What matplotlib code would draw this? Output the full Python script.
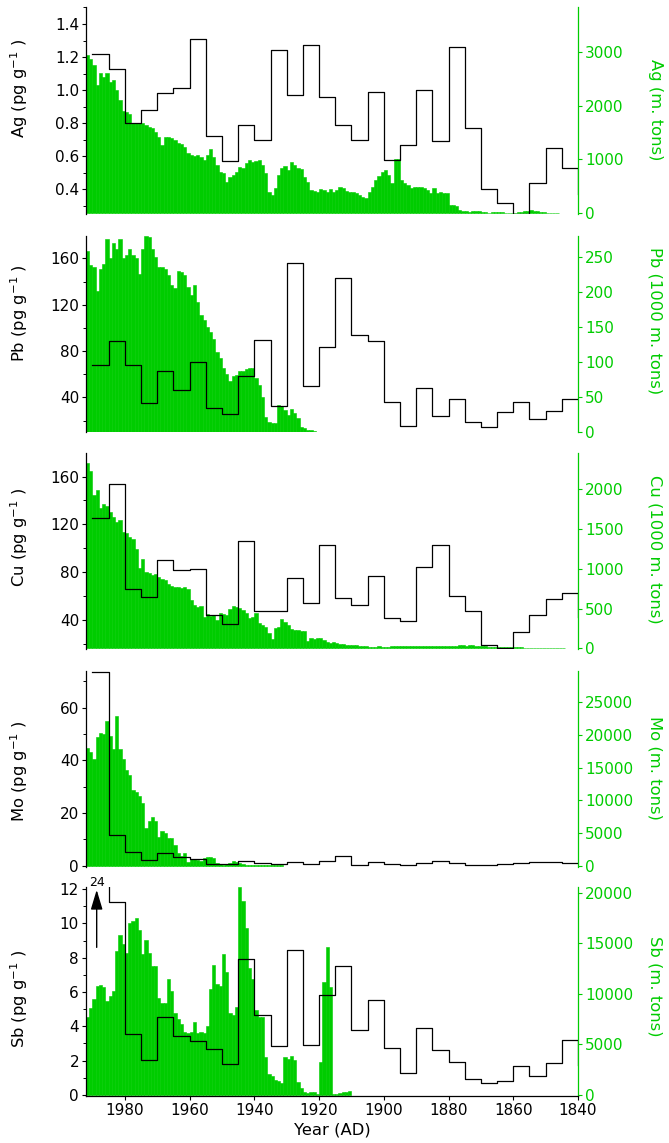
import matplotlib

matplotlib.use("Agg")
import matplotlib.pyplot as plt
import numpy as np
from matplotlib.ticker import FixedLocator, MultipleLocator

GREEN = "#00cc00"

# 5-year ice-core bins (1990 -> 1840), concentrations in pg/g
bin_edges = np.arange(1990, 1835, -5)

ag_conc = [1.22, 1.13, 0.80, 0.88, 0.98, 1.01, 1.31, 0.72, 0.57, 0.79,
           0.70, 1.24, 0.97, 1.27, 0.96, 0.79, 0.70, 0.99, 0.58, 0.67,
           1.00, 0.69, 1.26, 0.77, 0.40, 0.315, 0.253, 0.44, 0.65, 0.53]
ag_conc_end = 0.37
pb_conc = [67.6, 88.3, 67.6, 35.4, 62.4, 46.3, 70.5, 30.8, 25.6, 58.1,
           89.8, 32.5, 156.0, 49.5, 83.2, 142.7, 93.8, 88.3, 35.7, 15.0,
           47.8, 24.2, 38.6, 18.5, 14.5, 27.5, 36.4, 21.4, 28.3, 38.3]
pb_conc_end = 38.3
cu_conc = [125.1, 153.9, 65.7, 59.0, 90.2, 81.6, 82.7, 44.2, 36.4, 106.1,
           47.5, 47.5, 74.9, 53.9, 103.1, 58.7, 52.8, 77.1, 41.4, 39.4,
           84.4, 102.5, 60.1, 47.8, 19.0, 16.5, 29.9, 44.4, 57.3, 62.3]
cu_conc_end = 42.8
mo_conc = [73.6, 11.8, 5.2, 2.0, 4.9, 3.4, 2.6, 0.6, 0.6, 1.9,
           0.9, 0.5, 1.3, 0.6, 1.6, 3.6, 0.4, 1.3, 0.5, 0.1,
           1.1, 1.8, 1.1, 0.4, 0.3, 0.8, 1.0, 1.5, 1.4, 1.1]
mo_conc_end = 1.1
sb_conc = [24.0, 11.23, 3.54, 2.03, 4.55, 3.43, 3.14, 2.65, 1.80, 7.93,
           4.64, 2.86, 8.42, 2.90, 5.84, 7.49, 3.81, 5.55, 2.75, 1.26,
           3.93, 2.61, 1.92, 0.93, 0.72, 0.83, 1.70, 1.12, 1.88, 3.23]
sb_conc_end = 1.74

# annual world production, listed from 1991 backwards
ag_prod = [2932, 2870, 2747, 2377, 2605, 2531, 2605, 2438, 2469, 2296,
           2099, 1895, 1883, 1840, 1679, 1679, 1667, 1679, 1636, 1605,
           1574, 1512, 1420, 1265, 1420, 1420, 1389, 1358, 1296, 1284,
           1235, 1111, 1080, 1062, 1080, 1049, 988, 1080, 1185, 1049,
           895, 772, 741, 586, 679, 710, 772, 864, 833, 926,
           988, 957, 975, 988, 895, 741, 401, 340, 463, 710,
           833, 877, 802, 957, 895, 833, 815, 679, 586, 432,
           420, 401, 444, 432, 401, 444, 401, 432, 481, 463,
           420, 401, 401, 370, 340, 309, 278, 401, 494, 617,
           691, 772, 802, 710, 568, 1000, 1000, 617, 568, 525,
           463, 481, 494, 481, 463, 432, 370, 475, 383, 401,
           370, 383, 154, 154, 136, 62, 49, 43, 31, 37,
           49, 43, 31, 25, 12, 18, 25, 18, 18, 12,
           3, 6, 12, 18, 31, 43, 49, 62, 49, 43,
           25, 18, 12, 6, 6, 6]
pb_prod = [258, 238, 236, 201, 233, 239, 275, 248, 269, 261,
           276, 248, 253, 261, 252, 248, 225, 261, 280, 278,
           261, 250, 236, 236, 233, 224, 209, 206, 229, 228,
           224, 207, 195, 210, 185, 167, 160, 150, 143, 133,
           114, 105, 91, 82, 72, 79, 81, 86, 87, 90,
           91, 91, 76, 67, 50, 21, 14, 12, 13, 38,
           36, 31, 24, 33, 26, 20, 6, 5, 3, 2, 1]
cu_prod = [2336, 2235, 1929, 1992, 1761, 1816, 1791, 1720, 1657, 1594,
           1615, 1468, 1455, 1405, 1371, 1246, 1007, 1124, 965, 944,
           923, 935, 893, 868, 860, 809, 784, 776, 768, 755,
           776, 742, 608, 545, 524, 533, 398, 428, 407, 419,
           356, 449, 432, 419, 491, 533, 524, 503, 482, 440,
           377, 398, 449, 315, 294, 273, 189, 117, 252, 264,
           365, 336, 294, 239, 231, 231, 222, 218, 96, 126,
           122, 134, 130, 105, 84, 71,
           84, 63, 55, 50, 46, 42, 40, 38, 34, 29,
           25, 21, 21, 21, 25, 21, 21, 21, 25, 25,
           25, 29, 29, 25, 29, 34, 29, 29, 34, 29,
           29, 25, 29, 34, 29, 25, 29, 34, 29, 38,
           38, 34, 38, 42, 34, 29, 25, 25, 21, 21,
           17, 21, 17, 17, 21, 17, 13, 17, 13, 8,
           5, 5, 5, 5, 5, 5, 5, 5, 5, 5, 5, 5]
mo_prod = [17955, 17442, 16262, 19699, 20366, 20110, 22162, 19853, 17801, 22931,
           17801, 16262, 14723, 13851, 11645, 11286, 10619, 9593, 5746, 6874,
           7387, 6772, 4412, 5335, 5079, 4309, 4207, 3181, 1898, 1488,
           1898, 616, 1026, 975, 872, 718, 1129, 1283, 1385, 1231,
           359, 205, 103, 257, 462, 718, 616, 359, 205, 103,
           60, 60, 60, 60, 60, 60, 60, 60, 60, 60, 60]
sb_prod = [7736, 8595, 9455, 10830, 10916, 10658, 9283, 9798, 10314, 14268,
           15815, 14955, 14096, 17018, 17190, 17534, 16331, 13924, 15299, 14096,
           12721, 12721, 9626, 9111, 9111, 11517, 10314, 8079, 7478, 7048,
           6188, 6102, 6188, 7220, 6102, 6274, 6102, 6790, 10486, 12893,
           11002, 10830, 13924, 12205, 8079, 7907, 8681, 20628, 19253, 16502,
           12549, 11517, 8423, 7736, 7736, 3782, 2063, 1891, 1461, 1375,
           1203, 3782, 3610, 3868, 3438, 1289, 688, 258, 172, 344,
           344, 86, 3266, 11174, 14612, 10658, 86, 86, 172, 344, 344, 430]

panels = [
    # (symbol, conc, conc_end, prod, right label,
    #  left ylim, left ticks, left minor, right ylim, right ticks)
    ("Ag", ag_conc, ag_conc_end, ag_prod, "Ag (m. tons)",
     (0.249, 1.501), [0.4, 0.6, 0.8, 1.0, 1.2, 1.4], 0.1,
     (-19, 3824), [0, 1000, 2000, 3000]),
    ("Pb", pb_conc, pb_conc_end, pb_prod, "Pb (1000 m. tons)",
     (10.4, 179.6), [40, 80, 120, 160], 20,
     (0, 280), [0, 50, 100, 150, 200, 250]),
    ("Cu", cu_conc, cu_conc_end, cu_prod, "Cu (1000 m. tons)",
     (15.7, 179.5), [40, 80, 120, 160], 20,
     (-8, 2454), [0, 500, 1000, 1500, 2000]),
    ("Mo", mo_conc, mo_conc_end, mo_prod, "Mo (m. tons)",
     (-0.4, 74), [0, 20, 40, 60], 10,
     (-150, 29850), [0, 5000, 10000, 15000, 20000, 25000]),
    ("Sb", sb_conc, sb_conc_end, sb_prod, "Sb (m. tons)",
     (-0.06, 12.1), [0, 2, 4, 6, 8, 10, 12], 1,
     (-100, 20560), [0, 5000, 10000, 15000, 20000]),
]

# axes boxes in pixels (top, bottom) and label vertical positions
W, H = 669, 1143
x0, x1 = 86, 578
boxes = [(7.3, 214.3), (235.7, 431.7), (453.3, 649.0), (670.7, 866.7), (887.3, 1096.0)]
left_label_y = [0.61, 0.607, 0.571, 0.49, 0.464]
right_label_y = [0.507, 0.566, 0.51, 0.505, 0.526]

fig = plt.figure(figsize=(W / 100, H / 100), dpi=100)
fs = 11      # tick labels
lfs = 11.8   # axis labels

for i, (sym, conc, conc_end, prod, rlabel, ylim, yticks, yminor,
        rylim, rticks) in enumerate(panels):
    top, bot = boxes[i]
    rect = [x0 / W, 1 - bot / H, (x1 - x0) / W, (bot - top) / H]
    ax = fig.add_axes(rect)
    ax2 = ax.twinx()
    ax.set_zorder(ax2.get_zorder() + 1)
    ax.patch.set_visible(False)

    years = np.arange(1991, 1991 - len(prod), -1)
    ax2.bar(years, prod, width=1, align="edge", color=GREEN,
            edgecolor=GREEN, linewidth=0.4)
    ax.step(bin_edges, list(conc) + [conc_end], where="post",
            color="k", lw=0.9)

    ax.set_xlim(1992, 1840)
    ax.set_ylim(*ylim)
    ax2.set_ylim(*rylim)
    ax.yaxis.set_major_locator(FixedLocator(yticks))
    ax.yaxis.set_minor_locator(MultipleLocator(yminor))
    ax2.yaxis.set_major_locator(FixedLocator(rticks))
    if sym == "Ag":
        ax.set_yticklabels([f"{t:.1f}" for t in yticks])

    for s in ("top", "bottom", "right"):
        ax.spines[s].set_visible(False)
    for s in ("top", "bottom", "left"):
        ax2.spines[s].set_visible(False)
    ax.spines["left"].set_linewidth(0.9)
    ax2.spines["right"].set_color(GREEN)
    ax2.spines["right"].set_linewidth(0.9)

    ax.tick_params(axis="y", which="major", direction="out", length=3,
                   width=0.8, labelsize=fs, pad=2)
    ax.tick_params(axis="y", which="minor", direction="out", length=2,
                   width=0.7)
    ax2.tick_params(axis="y", which="major", direction="out", length=3,
                    width=0.8, color=GREEN, labelcolor=GREEN,
                    labelsize=fs, pad=2)

    ax.set_ylabel(f"{sym} (pg g$^{{-1}}$ )", fontsize=lfs)
    ax.yaxis.set_label_coords(-0.114, left_label_y[i])
    ax2.set_ylabel(rlabel, fontsize=lfs, color=GREEN, rotation=270,
                   va="center")
    ax2.yaxis.set_label_coords(1.157, right_label_y[i])

    if sym == "Sb":
        ax.spines["bottom"].set_visible(True)
        ax.spines["bottom"].set_linewidth(0.9)
        ax.set_xticks([1980, 1960, 1940, 1920, 1900, 1880, 1860, 1840])
        ax.tick_params(axis="x", direction="out", length=3, width=0.8,
                       labelsize=fs, pad=2)
        ax.set_xlabel("Year (AD)", fontsize=lfs, labelpad=3)
        ax2.tick_params(axis="x", bottom=False, labelbottom=False)
        # off-scale first value marker
        ax.annotate("", xy=(1988.7, 11.95), xytext=(1988.7, 8.6),
                    arrowprops=dict(arrowstyle="-|>,head_width=0.3,head_length=1.0",
                                    color="k", lw=1.0, mutation_scale=12,
                                    shrinkA=0, shrinkB=0))
        ax.text(1988.7, 12.0, "24", ha="center", va="bottom", fontsize=9,
                clip_on=False)
    else:
        ax.tick_params(axis="x", bottom=False, labelbottom=False)
        ax2.tick_params(axis="x", bottom=False, labelbottom=False)

fig.savefig("out.png", dpi=100)
